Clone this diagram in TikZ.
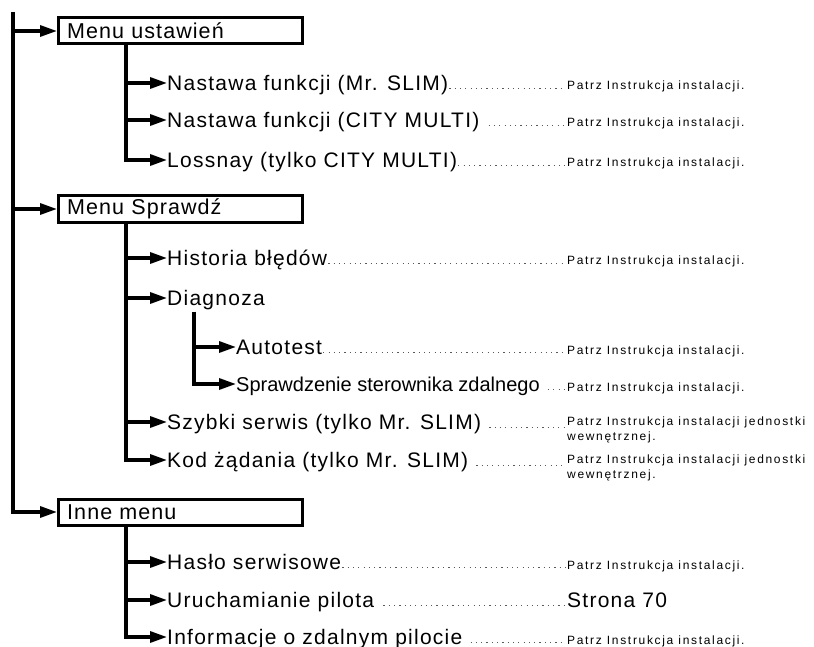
\documentclass[tikz,border=0pt]{standalone}
\usepackage{fontspec}
\setmainfont{Liberation Sans}
\newfontfamily\menufont{Liberation Sans}[LetterSpace=5]
\newfontfamily\itemfont{Liberation Sans}[LetterSpace=6]
\newfontfamily\notefont{Liberation Sans}[LetterSpace=14]
\usetikzlibrary{arrows.meta, positioning, calc}
\tikzset{
  >={Triangle[length=17pt, width=11pt]},
  menu/.style   = {draw, line width=3pt, anchor=west,
                   text width=227pt, inner xsep=8.7pt, minimum height=26pt,
                   align=left, font=\menufont\fontsize{21.5}{24}\selectfont},
  item/.style   = {anchor=west, inner sep=0pt, text height=15pt, text depth=0pt,
                   font=\itemfont\fontsize{21}{24}\selectfont},
  plain/.style  = {item, font=\fontsize{20}{24}\selectfont},
  note/.style   = {anchor=base west, inner sep=0pt, align=left,
                   font=\notefont\fontsize{12}{15}\selectfont},
  tree/.style   = {line width=3.2pt},
  arrow/.style  = {tree, ->},
  leader/.style = {line width=1.2pt, dash pattern=on 1.2pt off 4.1pt, black!65},
}

\begin{document}
\begin{tikzpicture}[x=1pt, y=-1pt]
  \useasboundingbox (0,0) rectangle (814,647);

  % Menus
  \node[menu] (ust) at (57,31)  {Menu ustawień};
  \node[menu] (spr) at (57,209) {Menu Sprawdź};
  \node[menu] (inn) at (57,512) {Inne menu};

  % Menu ustawien
  \node[item] (fslim) at (167,83)  {Nastawa funkcji (Mr. SLIM)};
  \node[item] (fcity) at (167,120) {Nastawa funkcji (CITY MULTI)};
  \node[item] (loss)  at (167,160) {Lossnay (tylko CITY MULTI)};

  % Menu Sprawdz
  \node[item]  (hist) at (167,258) {Historia błędów};
  \node[item]  (diag) at (167,298) {Diagnoza};
  \node[item]  (auto) at (236,347) {Autotest};
  \node[plain] (ster) at (236,384) {Sprawdzenie sterownika zdalnego};
  \node[item]  (szyb) at (167,422) {Szybki serwis (tylko Mr. SLIM)};
  \node[item]  (kod)  at (167,460) {Kod żądania (tylko Mr. SLIM)};

  % Inne menu
  \node[item] (haslo) at (167,562) {Hasło serwisowe};
  \node[item] (pilot) at (167,600) {Uruchamianie pilota};
  \node[item] (info)  at (167,637) {Informacje o zdalnym pilocie};

  % References
  \node[note] (rfslim) at (567,90)  {Patrz Instrukcja instalacji.};
  \node[note] (rfcity) at (567,127) {Patrz Instrukcja instalacji.};
  \node[note] (rloss)  at (567,167) {Patrz Instrukcja instalacji.};
  \node[note] (rhist)  at (567,265) {Patrz Instrukcja instalacji.};
  \node[note] (rauto)  at (567,354) {Patrz Instrukcja instalacji.};
  \node[note] (rster)  at (567,391) {Patrz Instrukcja instalacji.};
  \node[note] (rszyb)  at (567,440) {Patrz Instrukcja instalacji jednostki\\wewnętrznej.};
  \node[note] (rkod)   at (567,478) {Patrz Instrukcja instalacji jednostki\\wewnętrznej.};
  \node[note] (rhaslo) at (567,569) {Patrz Instrukcja instalacji.};
  \node[item] (rpilot) at (567,600) {Strona 70};
  \node[note] (rinfo)  at (567,644) {Patrz Instrukcja instalacji.};

  % Main trunk
  \coordinate (trunk) at (13,12);
  \draw[arrow] (trunk) |- (inn);
  \foreach \m in {ust, spr}
    \draw[arrow] (trunk |- \m) -- (\m);

  % Branches
  \coordinate (br) at (126,0);
  \coordinate (sub) at (194,0);
  \draw[arrow] (br |- ust.south) |- (loss);
  \draw[arrow] (br |- spr.south) |- (kod);
  \draw[arrow] (br |- inn.south) |- (info);
  \draw[arrow] ([yshift=-6pt]sub |- diag.south) |- (ster);
  \foreach \a in {fslim, fcity, hist, diag, szyb, haslo, pilot}
    \draw[arrow] (br |- \a) -- (\a);
  \draw[arrow] (sub |- auto) -- (auto);

  % Dotted leaders
  \foreach \a/\g in {fslim/1, fcity/9, loss/1, hist/1, auto/1, ster/8,
                     szyb/8, kod/8, haslo/1, pilot/9, info/8}
    \draw[leader] ([xshift=\g pt, yshift=2pt]\a.south east)
                  -- ([xshift=-2pt, yshift=2pt]\a.south east -| r\a.west);
\end{tikzpicture}
\end{document}
